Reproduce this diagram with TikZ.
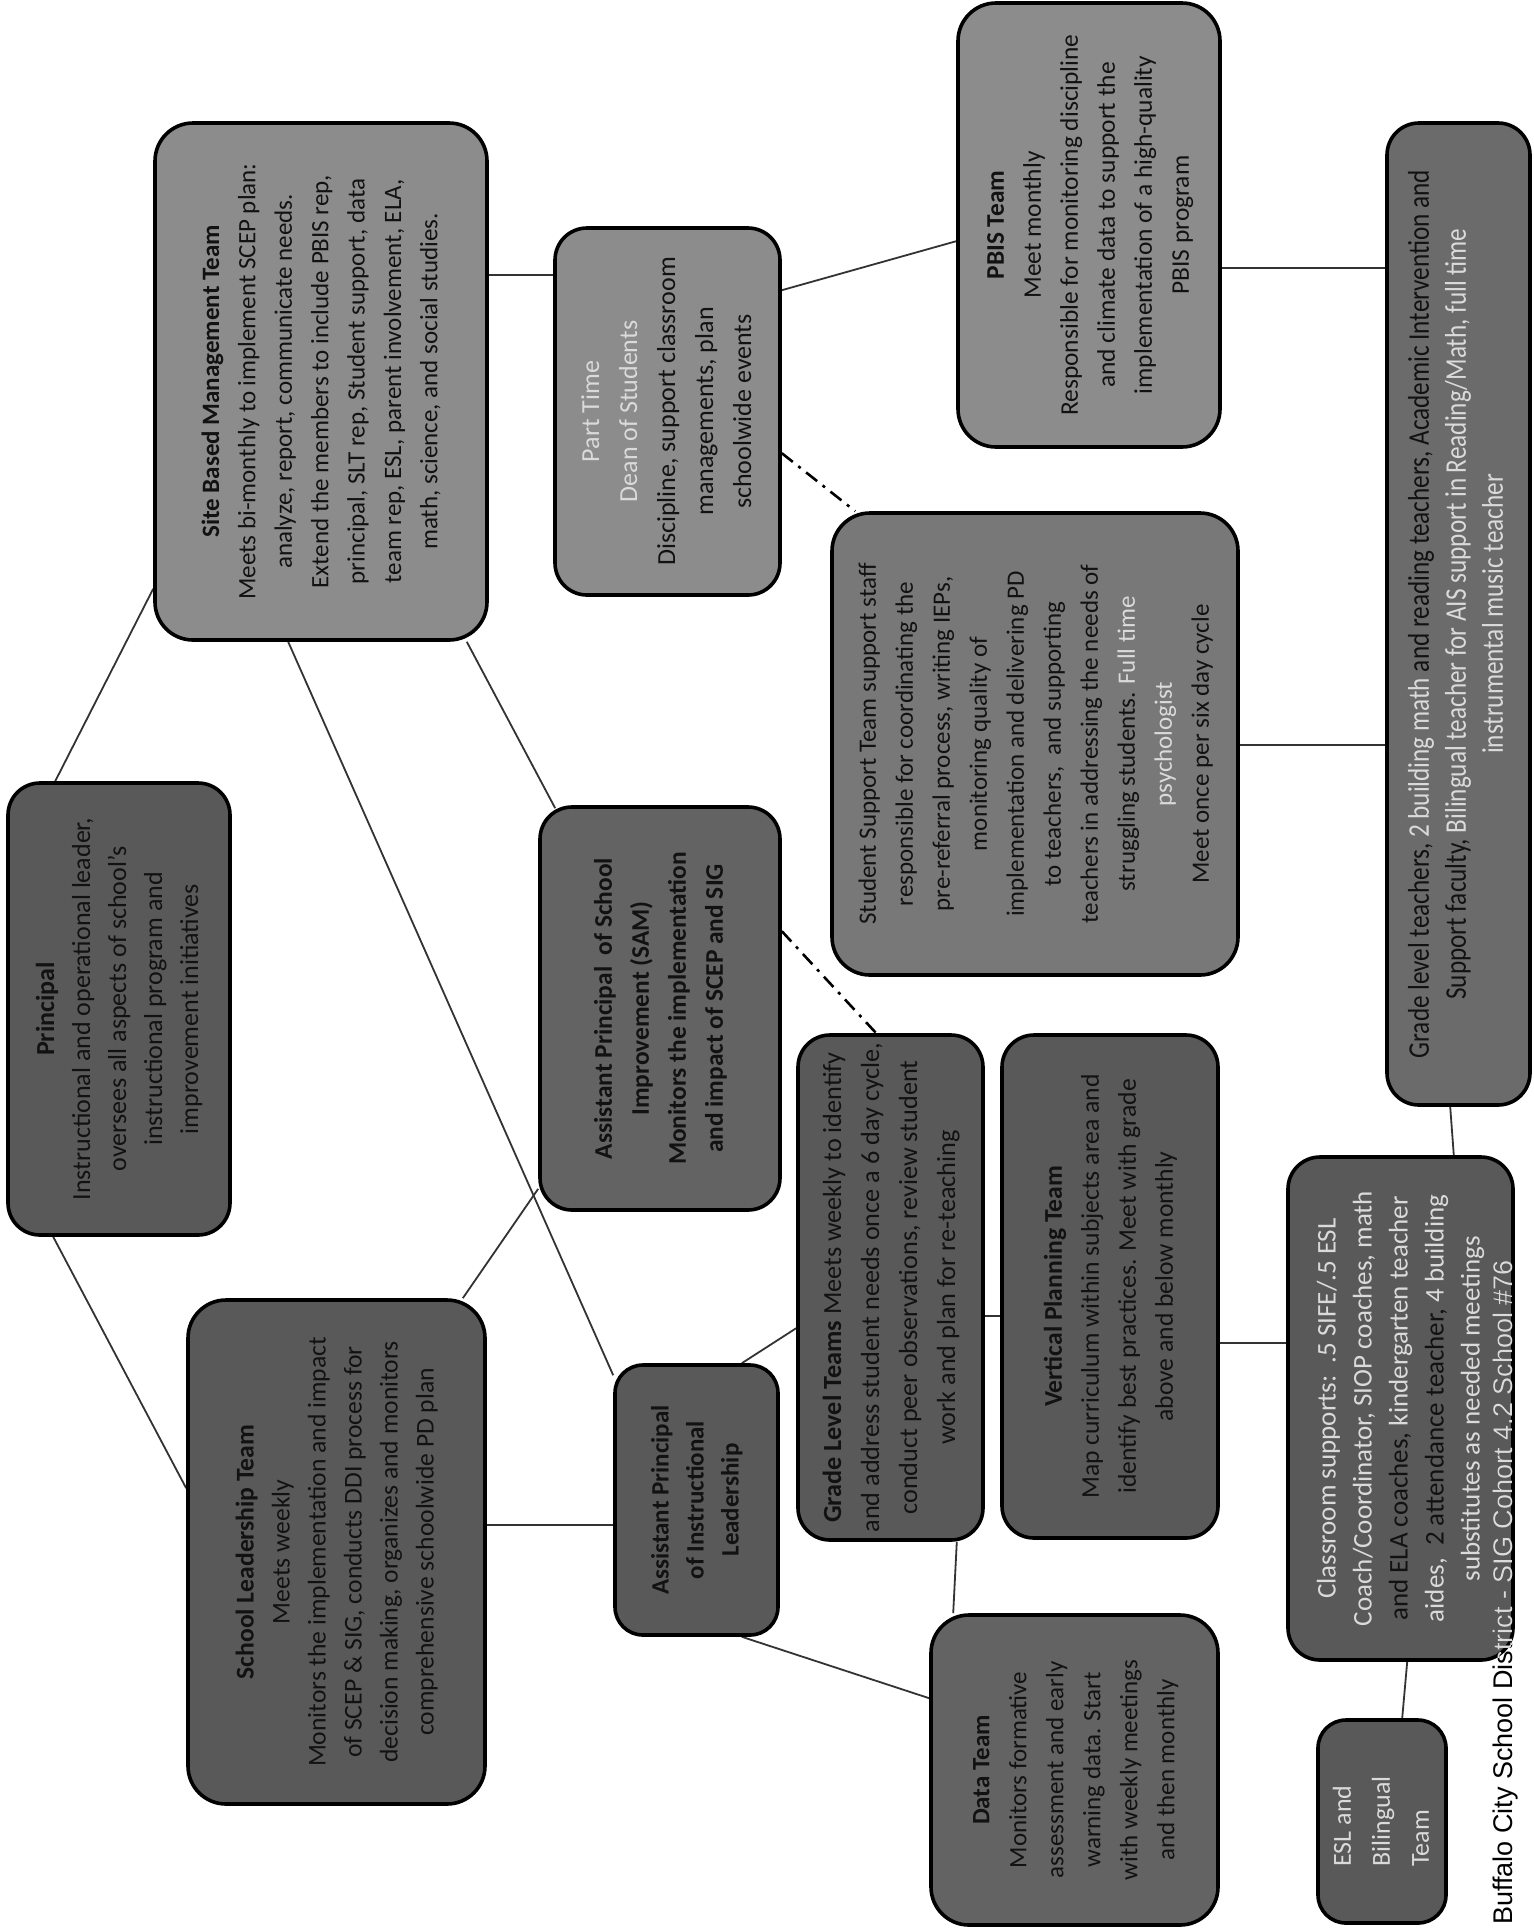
\documentclass[tikz,border=0pt]{standalone}
\usepackage{fontspec}
\usepackage{graphicx}
\setmainfont{Carlito}
\newfontfamily\narrowfont[FakeStretch=0.84]{Carlito}
\newfontfamily\footfont{Liberation Sans}
\usetikzlibrary{backgrounds}
\definecolor{tdark}{HTML}{121212}
\definecolor{tlight}{HTML}{DADADA}
\definecolor{gA}{HTML}{595959}
\definecolor{gB}{HTML}{8C8C8C}
\definecolor{gC}{HTML}{787878}
\definecolor{gD}{HTML}{636363}
\definecolor{gE}{HTML}{6B6B6B}
\newcommand{\vtext}[5][]{\rotatebox{90}{#1\fontsize{#2}{#3}\selectfont\begin{tabular}{@{}#4@{}}#5\end{tabular}}}
\newcommand{\bx}[7]{\node[box,#6,minimum width={(#4-#2)*0.5pt},minimum height={(#5-#3)*0.5pt}] (#1) at ({(#2+#4)/2},{(#3+#5)/2}) {#7};}
\begin{document}
\begin{tikzpicture}[x=0.5pt,y=-0.5pt,
  box/.style={draw=black,line width=1.8pt,rounded corners=16pt,inner sep=0pt,text=tdark},
  link/.style={draw=black!80,line width=0.9pt},
  ddline/.style={draw=black,line width=1.3pt,dash pattern=on 7pt off 3.5pt on 1.5pt off 3.5pt}]
\useasboundingbox (0,0) rectangle (1533,1929);

\bx{princ}{8}{783}{230}{1235}{fill=gA}{\vtext{13}{18}{c}{\textbf{Principal}\\Instructional and operational leader,\\oversees all aspects of school's\\instructional program and\\improvement initiatives}}
\bx{sbmt}{155}{123}{487}{640}{fill=gB,rounded corners=19pt}{\vtext{12.5}{18.2}{c}{\textbf{Site Based Management Team}\\Meets bi-monthly to implement SCEP plan:\\analyze, report, communicate needs.\\Extend the members to include PBIS rep,\\principal, SLT rep, Student support, data\\team rep, ESL, parent involvement, ELA,\\math, science, and social studies.}}
\bx{slt}{188}{1300}{485}{1804}{fill=gA,rounded corners=19pt}{\vtext{12.8}{18}{c}{\textbf{School Leadership Team}\\Meets weekly\\Monitors the implementation and impact\\of SCEP \& SIG, conducts DDI process for\\decision making, organizes and monitors\\comprehensive schoolwide PD plan}}
\bx{dean}{555}{228}{780}{595}{fill=gB}{\vtext{13}{19}{c}{\textcolor{tlight}{Part Time}\\\textcolor{tlight}{Dean of Students}\\Discipline, support classroom\\managements, plan\\schoolwide events}}
\bx{apsi}{540}{807}{780}{1210}{fill=gD}{\vtext[\bfseries]{12.7}{18.5}{c}{Assistant Principal\ \ of School\\Improvement (SAM)\\Monitors the implementation\\and impact of SCEP and SIG}}
\bx{apil}{615}{1365}{778}{1635}{fill=gA,rounded corners=14pt}{\vtext[\bfseries]{12.5}{17.5}{c}{Assistant Principal\\of Instructional\\Leadership}}
\bx{glt}{798}{1035}{983}{1540}{fill=gA}{\vtext{13.1}{19}{c}{\textbf{Grade Level Teams} Meets weekly to identify\\and address student needs once a 6 day cycle,\\conduct peer observations, review student\\work and plan for re-teaching}}
\bx{vpt}{1002}{1035}{1218}{1538}{fill=gA}{\vtext{12.8}{18.5}{c}{\textbf{Vertical Planning Team}\\Map curriculum within subjects area and\\identify best practices. Meet with grade\\above and below monthly}}
\bx{data}{931}{1615}{1218}{1925}{fill=gD,rounded corners=19pt}{\vtext{12.5}{18.5}{c}{\textbf{Data Team}\\Monitors formative\\assessment and early\\warning data. Start\\with weekly meetings\\and then monthly}}
\bx{pbis}{958}{3}{1220}{447}{fill=gB,rounded corners=19pt}{\vtext{12.7}{18.5}{c}{\textbf{PBIS Team}\\Meet monthly\\Responsible for monitoring discipline\\and climate data to support the\\implementation of a high-quality\\PBIS program}}
\bx{sst}{832}{513}{1238}{975}{fill=gC,rounded corners=19pt}{\vtext{12.5}{18.5}{c}{Student Support Team support staff\\responsible for coordinating the\\pre-referral process, writing IEPs,\\monitoring quality of\\implementation and delivering PD\\to teachers,\ \ and supporting\\teachers in addressing the needs of\\struggling students. \textcolor{tlight}{Full time}\\\textcolor{tlight}{psychologist}\\Meet once per six day cycle}}
\bx{glteach}{1387}{123}{1530}{1105}{fill=gE}{\vtext[\narrowfont]{15}{18.5}{c}{Grade level teachers, \textcolor{tlight}{2 building math} and reading teachers, Academic Intervention and\\Support faculty, \textcolor{tlight}{Bilingual teacher for AIS support in Reading/Math, full time}\\\textcolor{tlight}{instrumental music teacher}}}
\bx{cls}{1288}{1157}{1513}{1660}{fill=gA}{\vtext[\color{tlight}]{13.5}{18}{c}{Classroom supports:\ \ .5 SIFE/.5 ESL\\Coach/Coordinator, SIOP coaches, math\\\textcolor{tdark}{and ELA coaches,} kindergarten teacher\\aides,\ \ \textcolor{tdark}{2 attendance teacher,} 4 building\\substitutes as needed meetings}}
\bx{esl}{1318}{1720}{1446}{1923}{fill=gA,rounded corners=14pt}{\vtext[\color{tlight}]{13}{19.5}{l}{ESL and\\Bilingual\\Team}}

\node[rotate=90,anchor=base west,inner sep=0pt,text=black,font=\footfont\fontsize{13.5}{16}\selectfont] (foot) at (1512,1925) {Buffalo City School District - SIG Cohort 4.2 School \#76};
\begin{scope}
\clip[rounded corners=16pt] (cls.north west) rectangle (cls.south east);
\node[rotate=90,anchor=base west,inner sep=0pt,text=tlight,font=\footfont\fontsize{13.5}{16}\selectfont] (footl) at (1512,1925) {Buffalo City School District - SIG Cohort 4.2 School \#76};
\end{scope}

\begin{scope}[on background layer]
\fill[white] (0,0) rectangle (1533,1929);
\draw[link] ([xshift=24.5pt]princ.north west) -- ([yshift=26.5pt]sbmt.south west);
\draw[link] ([xshift=23.5pt]princ.south west) -- ([yshift=-95pt]slt.north west);
\draw[link] ([yshift=-77pt]sbmt.north east) -- ([yshift=-24.5pt]dean.north west);
\draw[link] ([yshift=-32pt]dean.north east) -- ([yshift=-120pt]pbis.north west);
\draw[ddline] ([yshift=-113.5pt]dean.north east) -- ([xshift=12.5pt]sst.north west);
\draw[link] ([xshift=-11pt]sbmt.south east) -- ([xshift=8.5pt,yshift=-1.5pt]apsi.north west);
\draw[link] ([xshift=67.5pt]sbmt.south west) -- ([yshift=-6pt]apil.north west);
\draw[link] ([yshift=11.5pt]apsi.south west) -- ([xshift=-12pt]slt.north east);
\draw[link] ([yshift=-113.5pt]slt.north east) -- ([yshift=-81pt]apil.north west);
\draw[link] ([xshift=-19pt]apil.north east) -- ([yshift=-147.5pt]glt.north west);
\draw[link] ([xshift=-19pt]apil.south east) -- ([yshift=-42.5pt]data.north west);
\draw[ddline] ([yshift=-63pt]apsi.north east) -- ([xshift=40pt]glt.north west);
\draw[link] ([xshift=-14pt]glt.south east) -- ([xshift=12pt]data.north west);
\draw[link] ([yshift=-141.5pt]glt.north east) -- ([yshift=-141.5pt]vpt.north west);
\draw[link] ([yshift=-155pt]vpt.north east) -- ([yshift=-94pt]cls.north west);
\draw[link] ([xshift=-30.5pt]cls.north east) -- ([xshift=32.5pt]glteach.south west);
\draw[link] ([xshift=60.5pt]cls.south west) -- ([xshift=43pt]esl.north west);
\draw[link] ([yshift=-117pt]sst.north east) -- ([yshift=-312pt]glteach.north west);
\draw[link] ([yshift=-133.5pt]pbis.north east) -- ([yshift=-73.5pt]glteach.north west);
\end{scope}
\end{tikzpicture}
\end{document}
